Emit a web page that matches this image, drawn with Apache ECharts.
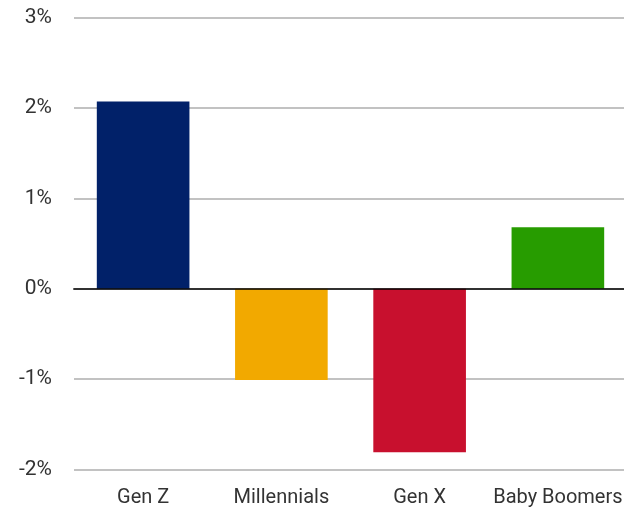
<!DOCTYPE html>
<html>
<head>
<meta charset="utf-8">
<script src="https://cdn.jsdelivr.net/npm/echarts@6/dist/echarts.min.js"></script>
<style>
html,body{margin:0;padding:0;background:#fff;}
#chart{width:624px;height:512px;}
</style>
</head>
<body>
<div id="chart"></div>
<script>
var categories = ["Gen Z", "Millennials", "Gen X", "Baby Boomers"];
var values = [2.07, -1.01, -1.81, 0.68];
var barColors = ["#012169", "#F2A900", "#C8102E", "#279C00"];
var yTicks = [-2, -1, 0, 1, 2, 3];

var font = "Roboto";
var chart = echarts.init(document.getElementById("chart"));
chart.setOption({
  animation: false,
  grid: { left: 74, right: -3, top: 17.5, bottom: 42.5, containLabel: false, outerBoundsMode: "none" },
  xAxis: {
    type: "category",
    data: categories,
    z: 10,
    axisLine: { onZero: true, lineStyle: { color: "rgba(0,0,0,0.75)", width: 2 } },
    axisTick: { show: false },
    axisLabel: { color: "#333", fontFamily: font, fontWeight: 400, fontSize: 20, margin: 18, interval: 0 }
  },
  yAxis: {
    type: "value",
    min: yTicks[0],
    max: yTicks[yTicks.length - 1],
    interval: 1,
    axisLine: { show: false },
    axisTick: { show: false },
    splitLine: { lineStyle: { color: "#c2c2c2", width: 2 } },
    axisLabel: { color: "#333", fontFamily: font, fontWeight: 400, fontSize: 21, margin: 22,
      formatter: function (v) { return v + "%"; } }
  },
  series: [{
    type: "bar",
    barCategoryGap: "33%",
    data: values.map(function (v, i) { return { value: v, itemStyle: { color: barColors[i] } }; })
  }]
});
</script>
</body>
</html>
